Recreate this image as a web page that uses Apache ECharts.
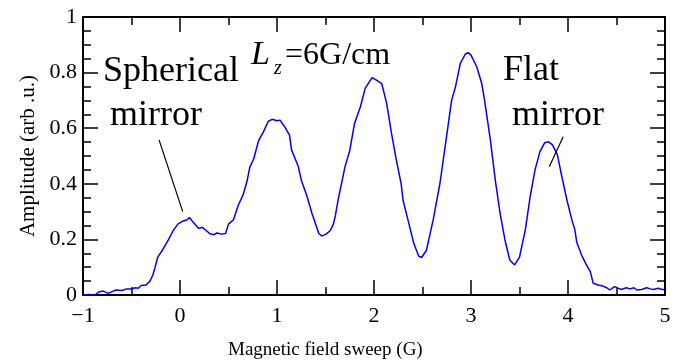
<!DOCTYPE html>
<html>
<head>
<meta charset="utf-8">
<script src="https://cdn.jsdelivr.net/npm/echarts@6/dist/echarts.min.js"></script>
<style>
  html, body { margin: 0; padding: 0; background: #fff; }
  #chart { width: 687px; height: 362px; }
</style>
</head>
<body>
<div id="chart"></div>
<script>
// field sweep (G) and detected amplitude
const sweep = [
  -1.00, -0.94, -0.88, -0.83, -0.79, -0.74, -0.70, -0.66, -0.60, -0.55,
  -0.50, -0.46, -0.43, -0.40, -0.35, -0.31, -0.28, -0.26, -0.23, -0.18,
  -0.12, -0.07, -0.02, 0.03, 0.07, 0.10, 0.13, 0.19, 0.23, 0.27,
  0.31, 0.35, 0.38, 0.43, 0.47, 0.50, 0.55, 0.60, 0.65, 0.69,
  0.72, 0.76, 0.81, 0.86, 0.91, 0.95, 1.00, 1.03, 1.08, 1.13,
  1.15, 1.22, 1.25, 1.31, 1.36, 1.43, 1.46, 1.51, 1.55, 1.58,
  1.60, 1.63, 1.68, 1.70, 1.75, 1.80, 1.86, 1.91, 1.98, 2.03,
  2.08, 2.13, 2.18, 2.23, 2.28, 2.30, 2.35, 2.41, 2.46, 2.49,
  2.54, 2.61, 2.68, 2.75, 2.80, 2.84, 2.89, 2.94, 2.97, 3.00,
  3.06, 3.11, 3.14, 3.20, 3.25, 3.30, 3.35, 3.40, 3.45, 3.50,
  3.56, 3.61, 3.66, 3.71, 3.76, 3.80, 3.84, 3.89, 3.94, 3.99,
  4.04, 4.07, 4.09, 4.14, 4.19, 4.23, 4.26, 4.31, 4.36, 4.40,
  4.43, 4.48, 4.52, 4.55, 4.60, 4.64, 4.68, 4.71, 4.76, 4.81,
  4.85, 4.88, 4.93, 4.97, 5.00
];
const amplitude = [
  0.000, 0.002, 0.000, 0.012, 0.014, 0.006, 0.012, 0.018, 0.016, 0.022,
  0.022, 0.026, 0.024, 0.034, 0.036, 0.050, 0.072, 0.096, 0.136, 0.162,
  0.198, 0.232, 0.256, 0.266, 0.270, 0.278, 0.264, 0.240, 0.243, 0.232,
  0.220, 0.217, 0.223, 0.219, 0.221, 0.255, 0.270, 0.322, 0.360, 0.408,
  0.460, 0.490, 0.555, 0.587, 0.625, 0.632, 0.627, 0.629, 0.605, 0.574,
  0.522, 0.462, 0.414, 0.354, 0.294, 0.222, 0.212, 0.220, 0.232, 0.254,
  0.282, 0.342, 0.426, 0.460, 0.520, 0.618, 0.677, 0.744, 0.782, 0.772,
  0.760, 0.690, 0.582, 0.486, 0.400, 0.340, 0.270, 0.186, 0.140, 0.135,
  0.160, 0.270, 0.402, 0.575, 0.700, 0.749, 0.833, 0.866, 0.872, 0.863,
  0.820, 0.762, 0.700, 0.557, 0.414, 0.294, 0.198, 0.126, 0.108, 0.136,
  0.234, 0.354, 0.450, 0.515, 0.548, 0.551, 0.540, 0.505, 0.420, 0.340,
  0.270, 0.236, 0.190, 0.144, 0.108, 0.084, 0.042, 0.036, 0.032, 0.026,
  0.018, 0.030, 0.024, 0.020, 0.026, 0.022, 0.026, 0.018, 0.020, 0.026,
  0.022, 0.020, 0.024, 0.020, 0.020
];

// leader lines from the labels to the peaks, in data units
const sphericalPointer = [[-0.216, 0.558], [0.028, 0.300]];
const flatPointer = [[3.95, 0.569], [3.807, 0.461]];

const serif = "Liberation Serif";
const chart = echarts.init(document.getElementById("chart"), null, { renderer: "canvas" });

const tickX = { show: true, inside: true, length: 15, lineStyle: { color: "#000", width: 1.5 } };
const minorX = { show: true, splitNumber: 2, length: 8, lineStyle: { color: "#000", width: 1.5 } };
const tickY = { show: true, inside: true, length: 15, lineStyle: { color: "#000", width: 1.5 } };
const minorY = { show: true, splitNumber: 4, length: 8, lineStyle: { color: "#000", width: 1.5 } };
const frame = { show: true, onZero: false, lineStyle: { color: "#000", width: 2 } };

const option = {
  backgroundColor: "#fff",
  animation: false,
  grid: { left: 83, right: 22, top: 17, bottom: 67 },
  xAxis: [
    {
      type: "value", min: -1, max: 5, interval: 1, position: "bottom",
      axisLine: frame, axisTick: tickX, minorTick: minorX,
      splitLine: { show: false },
      axisLabel: {
        color: "#000", fontFamily: serif, fontSize: 22, margin: 10,
        formatter: (v) => String(v).replace("-", "\u2212"),
      },
    },
    {
      type: "value", min: -1, max: 5, interval: 1, position: "top",
      axisLine: frame, axisTick: tickX, minorTick: minorX,
      splitLine: { show: false }, axisLabel: { show: false },
    },
  ],
  yAxis: [
    {
      type: "value", min: 0, max: 1, interval: 0.2, position: "left",
      axisLine: frame, axisTick: tickY, minorTick: minorY,
      splitLine: { show: false },
      axisLabel: { color: "#000", fontFamily: serif, fontSize: 22, margin: 6 },
    },
    {
      type: "value", min: 0, max: 1, interval: 0.2, position: "right",
      axisLine: frame, axisTick: tickY, minorTick: minorY,
      splitLine: { show: false }, axisLabel: { show: false },
    },
  ],
  series: [
    {
      type: "line",
      data: sweep.map((x, i) => [x, amplitude[i]]),
      showSymbol: false,
      lineStyle: { color: "#0000ff", width: 1.5 },
      markLine: {
        silent: true,
        symbol: "none",
        label: { show: false },
        lineStyle: { color: "#000", width: 1.2, type: "solid" },
        data: [
          [{ coord: sphericalPointer[0] }, { coord: sphericalPointer[1] }],
          [{ coord: flatPointer[0] }, { coord: flatPointer[1] }],
        ],
      },
    },
  ],
  graphic: [
    { type: "text", left: 103, top: 54, style: { text: "Spherical", font: `36px "${serif}"`, fill: "#000" } },
    { type: "text", left: 110, top: 98, style: { text: "mirror", font: `36px "${serif}"`, fill: "#000" } },
    { type: "text", left: 503, top: 53, style: { text: "Flat", font: `36px "${serif}"`, fill: "#000" } },
    { type: "text", left: 512, top: 98, style: { text: "mirror", font: `36px "${serif}"`, fill: "#000" } },
    { type: "text", left: 251, top: 38, style: { text: "L", font: `italic 34px "${serif}"`, fill: "#000" } },
    { type: "text", left: 274, top: 59, style: { text: "z", font: `italic 20px "${serif}"`, fill: "#000" } },
    { type: "text", left: 285, top: 40, style: { text: "=6G/cm", font: `32px "${serif}"`, fill: "#000" } },
    {
      type: "text", left: 228, top: 341,
      style: { text: "Magnetic field sweep (G)", font: `19px "${serif}"`, fill: "#000" },
    },
    {
      type: "text", x: 28, y: 156, rotation: Math.PI / 2,
      style: {
        text: "Amplitude (arb .u.)", font: `21px "${serif}"`, fill: "#000",
        align: "center", verticalAlign: "middle",
      },
    },
  ],
};

chart.setOption(option);
</script>
</body>
</html>
